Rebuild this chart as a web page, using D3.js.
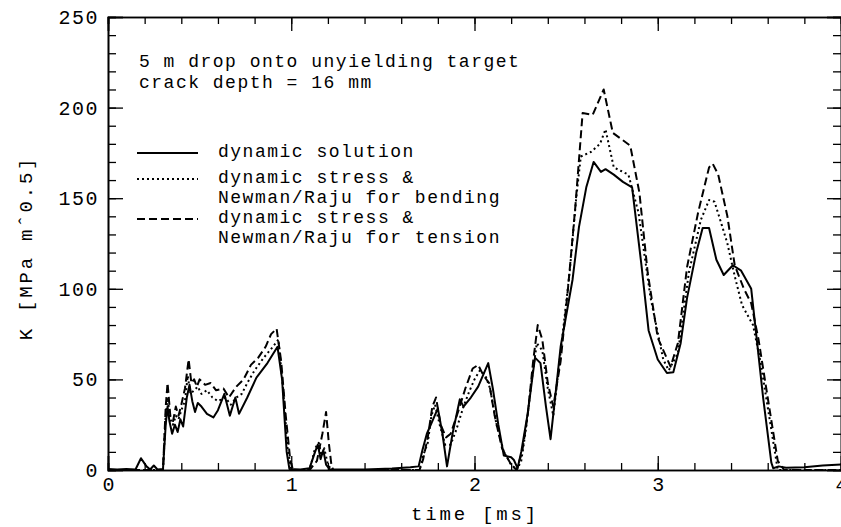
<!DOCTYPE html>
<html>
<head>
<meta charset="utf-8">
<script src="https://cdn.jsdelivr.net/npm/d3@7"></script>
<style>
  html, body { margin: 0; padding: 0; background: #fff; }
  svg { display: block; }
  text { font-family: "Liberation Mono", "Courier New", monospace; fill: #000; }
</style>
</head>
<body>
<svg id="chart" width="841" height="527"></svg>
<script>
// ---------- data ----------
const xTickLabels = [0, 1, 2, 3, 4];
const yTickLabels = [0, 50, 100, 150, 200, 250];
const legendLabels = [
  ["dynamic solution"],
  ["dynamic stress &", "Newman/Raju for bending"],
  ["dynamic stress &", "Newman/Raju for tension"]
];
const annotationLines = ["5 m drop onto unyielding target", "crack depth = 16 mm"];

// dynamic solution
const solidTime = [0.00,0.05,0.10,0.15,0.18,0.21,0.23,0.25,0.27,0.30,0.315,0.325,0.335,0.35,0.365,0.38,0.395,0.41,0.43,0.445,0.46,0.475,0.49,0.51,0.54,0.575,0.60,0.635,0.665,0.695,0.715,0.76,0.81,0.87,0.925,0.95,0.975,0.99,1.05,1.10,1.13,1.145,1.16,1.175,1.19,1.21,1.40,1.55,1.65,1.695,1.716,1.74,1.77,1.80,1.825,1.85,1.88,1.92,1.94,1.98,2.02,2.075,2.10,2.13,2.16,2.20,2.215,2.235,2.255,2.29,2.33,2.36,2.39,2.415,2.44,2.47,2.535,2.57,2.61,2.65,2.69,2.715,2.76,2.81,2.86,2.91,2.95,3.00,3.05,3.085,3.125,3.16,3.21,3.245,3.28,3.32,3.36,3.41,3.455,3.51,3.535,3.575,3.62,3.63,3.66,3.70,3.80,3.90,4.00];
const solidK    = [0.5,0.3,0.5,0.3,6.5,2,0.3,2.5,0.3,0.5,25,35,27,20,25,21,28,24,40,47,38,32,37,35,31,29,33,42,30,40,31,40,51,59,68,50,10,0.5,0.3,1,10,14,6,11,3,0.3,0.3,0.8,1.5,2,11,20,27,34,20,2,20,39,35,40,46,59,45,25,8,7,5.5,1,10,31,62,59,35,17,40,68,105,134,156,170,164.5,166,163,159,156,114,77,61,53.5,54,70,95,120,133.5,133.5,116,107.6,113,110,100,77,40,4,1,2,1.2,1.5,2.5,3];

// dynamic stress & Newman/Raju for bending
const dottedTime = [0.00,0.30,0.315,0.325,0.34,0.355,0.37,0.385,0.40,0.42,0.435,0.45,0.47,0.49,0.51,0.54,0.57,0.60,0.64,0.67,0.70,0.73,0.76,0.80,0.85,0.90,0.93,0.955,0.98,1.00,1.10,1.13,1.15,1.165,1.18,1.20,1.22,1.70,1.72,1.745,1.765,1.785,1.81,1.84,1.87,1.90,1.94,1.97,2.00,2.03,2.06,2.085,2.12,2.16,2.20,2.23,2.255,2.28,2.31,2.34,2.37,2.40,2.43,2.47,2.52,2.555,2.58,2.635,2.685,2.715,2.76,2.80,2.84,2.895,2.96,3.03,3.06,3.11,3.17,3.235,3.28,3.31,3.35,3.38,3.42,3.46,3.52,3.56,3.655,4.00];
const dottedK    = [0,0,30,40,28,25,30,28,33,38,52,42,44,46,42,44,40,38,40,36,40,42,48,55,62,68,72,45,12,0,0,12,15,8,12,3,0,0,8,15,30,36,25,14,14,22,35,43,50,55,52,45,25,10,3,0,5,22,48,70,66,45,30,65,110,150,173,175.5,180,188,167,165,163,142,95.5,61,55,64.5,109,138,149,148,135,125,107,91,80,60,0,0];

// dynamic stress & Newman/Raju for tension
const dashedTime = [0.00,0.30,0.315,0.325,0.34,0.355,0.37,0.385,0.40,0.42,0.44,0.455,0.47,0.485,0.50,0.53,0.56,0.59,0.63,0.66,0.70,0.74,0.78,0.82,0.86,0.89,0.92,0.945,0.97,0.995,1.01,1.10,1.14,1.17,1.19,1.205,1.22,1.23,1.70,1.72,1.745,1.77,1.79,1.815,1.845,1.87,1.91,1.95,1.99,2.02,2.05,2.08,2.11,2.15,2.20,2.23,2.26,2.29,2.32,2.345,2.37,2.40,2.43,2.47,2.51,2.55,2.59,2.645,2.705,2.755,2.81,2.85,2.90,2.945,3.00,3.07,3.11,3.16,3.22,3.28,3.30,3.33,3.38,3.42,3.47,3.51,3.55,3.60,3.655,3.69,4.00];
const dashedK    = [0,0,35,48,30,27,35,30,36,45,61,48,50,46,50,47,48,44,45,40,46,50,58,62,68,75,78,60,30,5,0,0,5,20,32,15,2,0,0,6,18,35,40,25,18,20,32,45,56,58,52,48,30,12,3,0,10,30,60,80,72,48,35,60,100,145,197,196,210,186,182,179,153,109,73,57,70,112,142,167,169,163,140,113,100,92,72,40,5,0,0];

// ---------- drawing ----------
const svg = d3.select("#chart");
const x = d3.scaleLinear().domain([0, 4]).range([108, 841]);
const y = d3.scaleLinear().domain([0, 250]).range([470, 17]);

const minorX = d3.range(0, 4.001, 0.2).map(v => +v.toFixed(1));
const minorY = d3.range(0, 250.1, 10);

function styleAxis(g) {
  g.selectAll("path.domain").attr("stroke", "#000").attr("stroke-width", 1.6);
  g.selectAll(".tick line").attr("stroke", "#000").attr("stroke-width", 1.3);
}

// minor ticks (no labels)
svg.append("g").attr("transform", "translate(0,470)")
  .call(d3.axisBottom(x).tickValues(minorX).tickSize(-7).tickFormat(""))
  .call(styleAxis);
svg.append("g").attr("transform", "translate(0,17)")
  .call(d3.axisTop(x).tickValues(minorX).tickSize(-7).tickFormat(""))
  .call(styleAxis);
svg.append("g").attr("transform", "translate(108,0)")
  .call(d3.axisLeft(y).tickValues(minorY).tickSize(-8).tickFormat(""))
  .call(styleAxis);
svg.append("g").attr("transform", "translate(841,0)")
  .call(d3.axisRight(y).tickValues(minorY).tickSize(-8).tickFormat(""))
  .call(styleAxis);

// major ticks
const xAxisG = svg.append("g").attr("transform", "translate(0,470)")
  .call(d3.axisBottom(x).tickValues(xTickLabels).tickSize(-14).tickPadding(7).tickFormat(d3.format("d")))
  .call(styleAxis);
xAxisG.selectAll("text").style("font-size", "20px");
svg.append("g").attr("transform", "translate(0,17)")
  .call(d3.axisTop(x).tickValues(xTickLabels).tickSize(-14).tickFormat(""))
  .call(styleAxis);
const yAxisG = svg.append("g").attr("transform", "translate(108,0)")
  .call(d3.axisLeft(y).tickValues(yTickLabels).tickSize(-15).tickPadding(9).tickFormat(d3.format("d")))
  .call(styleAxis);
yAxisG.selectAll("text").style("font-size", "20px").style("letter-spacing", "1.5px");
svg.append("g").attr("transform", "translate(841,0)")
  .call(d3.axisRight(y).tickValues(yTickLabels).tickSize(-14).tickFormat(""))
  .call(styleAxis);

// axis titles
svg.append("text").attr("x", 475).attr("y", 520)
  .attr("text-anchor", "middle").style("font-size", "19px").style("letter-spacing", "2.8px")
  .text("time [ms]");
svg.append("text").attr("transform", "translate(32,248) rotate(-90)")
  .attr("text-anchor", "middle").style("font-size", "19px").style("letter-spacing", "2.8px")
  .text("K [MPa mˆ0.5]");

// series
const line = d3.line().x(d => x(d[0])).y(d => y(d[1]));
const series = [
  { t: solidTime,  k: solidK,  dash: null },
  { t: dottedTime, k: dottedK, dash: "2,3" },
  { t: dashedTime, k: dashedK, dash: "8,4" }
];
series.forEach(s => {
  const pts = s.t.map((t, i) => [t, s.k[i]]);
  svg.append("path").datum(pts)
    .attr("d", line)
    .attr("fill", "none")
    .attr("stroke", "#000")
    .attr("stroke-width", 2)
    .attr("stroke-linejoin", "round")
    .attr("stroke-dasharray", s.dash);
});

// annotation
annotationLines.forEach((txt, i) => {
  svg.append("text").attr("x", 139).attr("y", 67 + i * 21)
    .style("font-size", "18px").style("letter-spacing", "1.5px")
    .text(txt);
});

// legend
const legendRowsY = [[153], [179, 199], [219, 239]];
series.forEach((s, i) => {
  svg.append("line")
    .attr("x1", 137).attr("x2", 198)
    .attr("y1", legendRowsY[i][0]).attr("y2", legendRowsY[i][0])
    .attr("stroke", "#000").attr("stroke-width", 2)
    .attr("stroke-dasharray", s.dash);
  legendLabels[i].forEach((txt, j) => {
    svg.append("text").attr("x", 218).attr("y", legendRowsY[i][j] + 4)
      .style("font-size", "18px").style("letter-spacing", "1.5px")
      .text(txt);
  });
});
</script>
</body>
</html>
